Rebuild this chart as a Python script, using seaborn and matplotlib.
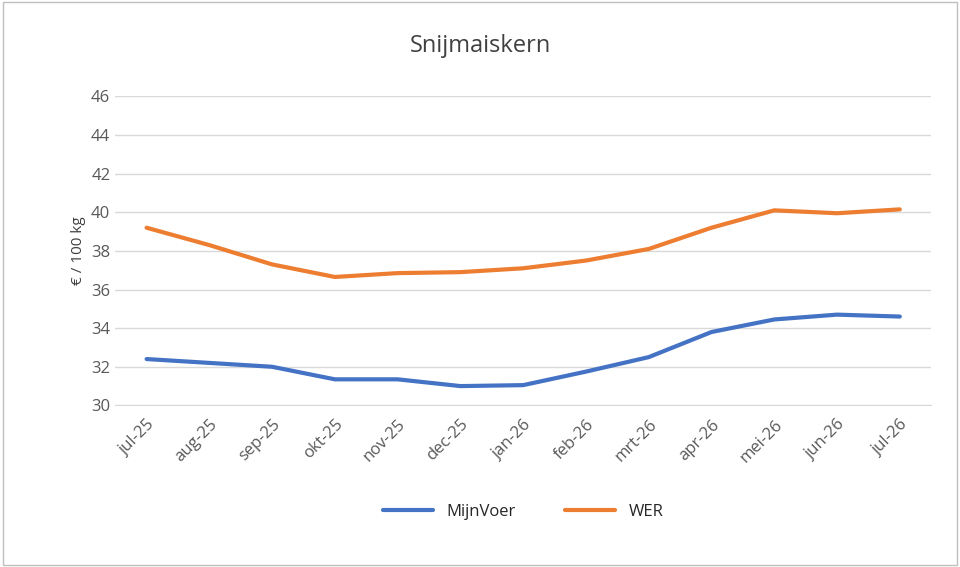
# Snijmaiskern price chart
# Goal: compare MijnVoer and WER price trend per month

# Step 1: Import libraries
import pandas as pd
import matplotlib.pyplot as plt
import seaborn as sns

# Step 2: Data
months = ['jul-25', 'aug-25', 'sep-25', 'okt-25', 'nov-25', 'dec-25', 'jan-26',
          'feb-26', 'mrt-26', 'apr-26', 'mei-26', 'jun-26', 'jul-26']
mijnvoer = [32.4, 32.2, 32.0, 31.35, 31.35, 31.0, 31.05, 31.75, 32.5, 33.8, 34.45, 34.7, 34.6]
wer = [39.2, 38.3, 37.3, 36.65, 36.85, 36.9, 37.1, 37.5, 38.1, 39.2, 40.1, 39.95, 40.15]

df = pd.DataFrame({'maand': months * 2,
                   'prijs': mijnvoer + wer,
                   'bron': ['MijnVoer'] * len(months) + ['WER'] * len(months)})

# Step 3: Visualization
sns.set_style('white')
plt.rcParams['font.family'] = ['Open Sans', 'DejaVu Sans']

plt.figure(figsize=(9.6, 5.67), dpi=100)
ax = sns.lineplot(data=df, x='maand', y='prijs', hue='bron', sort=False,
                  palette={'MijnVoer': '#4472C4', 'WER': '#ED7D31'}, linewidth=3)
plt.suptitle('Snijmaiskern', fontsize=17, color='#404040', x=0.5, y=0.94)
plt.ylim(30, 46)
plt.yticks(range(30, 47, 2), fontsize=12, color='#595959')
plt.xticks(rotation=45, fontsize=12, color='#595959', ha='right', rotation_mode='anchor')
plt.xlim(-0.5, len(months) - 0.5)
plt.xlabel('')
plt.ylabel('€ / 100 kg', fontsize=11, color='#404040')
ax.yaxis.grid(True, color='#d9d9d9', linewidth=1)
for side in ['top', 'right', 'left']:
    ax.spines[side].set_visible(False)
ax.spines['bottom'].set_color('#d9d9d9')
ax.tick_params(axis='both', length=0)
ax.tick_params(axis='x', pad=8)
plt.legend(loc='upper center', bbox_to_anchor=(0.5, -0.27), ncol=2, frameon=False,
           fontsize=12, handlelength=3, columnspacing=3)
plt.subplots_adjust(left=0.12, right=0.97, top=0.83, bottom=0.285)
plt.gcf().patches.append(plt.Rectangle((0.003, 0.003), 0.994, 0.994, transform=plt.gcf().transFigure,
                                       fill=False, edgecolor='#bfbfbf', linewidth=1))
plt.savefig('out.png')
